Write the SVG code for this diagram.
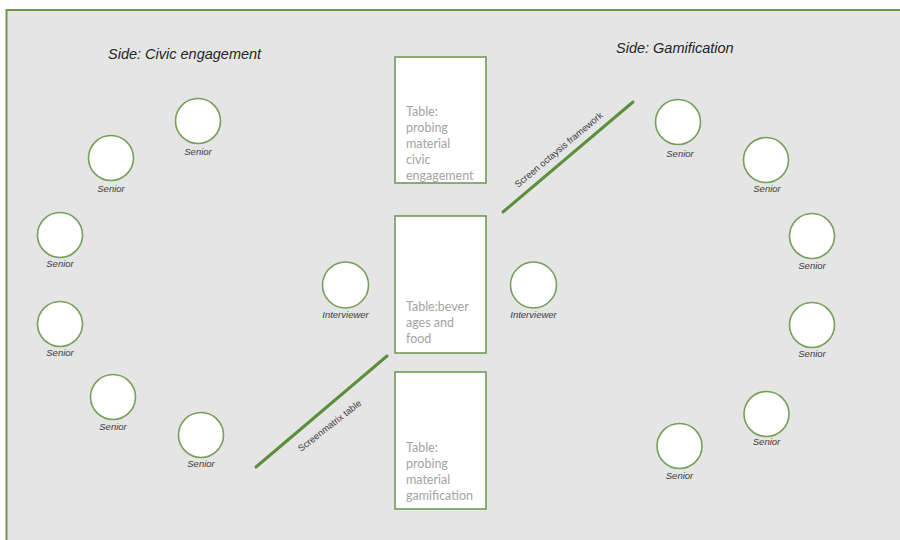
<svg xmlns="http://www.w3.org/2000/svg" width="900" height="540" viewBox="0 0 900 540">
<style>
.seat{fill:#ffffff;stroke:#76a05a;stroke-width:1.6}
.tbl{fill:#ffffff;stroke:#6f9c55;stroke-width:1.6}
.lbl{font-family:"Liberation Sans",Arial,sans-serif;font-size:9.5px;font-style:italic;fill:#404040;text-anchor:middle}
.side{font-family:"Liberation Sans",Arial,sans-serif;font-size:14.5px;font-style:italic;fill:#262626}
.ttxt{font-family:"Lato","Open Sans",sans-serif;font-size:12.5px;fill:#a3a3a3}
.scr{stroke:#5c8f3c;stroke-width:3;stroke-linecap:round}
.scrtxt{font-family:"Liberation Sans",Arial,sans-serif;font-size:9.3px;fill:#404040}
</style>
<rect x="0" y="0" width="900" height="540" fill="#ffffff"/>
<rect x="6.5" y="10" width="900" height="540" fill="#e5e5e5" stroke="#6b9b48" stroke-width="2"/>

<text class="side" x="108" y="59">Side: Civic engagement</text>
<text class="side" x="616" y="53">Side: Gamification</text>

<g id="table-civic"><rect class="tbl" x="395" y="57" width="91" height="126"/>
<text class="ttxt"><tspan x="406" y="116">Table:</tspan><tspan x="406" y="132">probing</tspan><tspan x="406" y="148">material</tspan><tspan x="406" y="164">civic</tspan><tspan x="406" y="180">engagement</tspan></text></g>
<g id="table-food"><rect class="tbl" x="395" y="216" width="91" height="137"/>
<text class="ttxt"><tspan x="406" y="311">Table:bever</tspan><tspan x="406" y="327">ages and</tspan><tspan x="406" y="343">food</tspan></text></g>
<g id="table-gamification"><rect class="tbl" x="395" y="372" width="91" height="137"/>
<text class="ttxt"><tspan x="406" y="452">Table:</tspan><tspan x="406" y="468">probing</tspan><tspan x="406" y="484">material</tspan><tspan x="406" y="500">gamification</tspan></text></g>

<g id="connectors">
<line class="scr" x1="256" y1="467" x2="387" y2="356"/>
<text class="scrtxt" transform="translate(301,452) rotate(-38)">Screenmatrix table</text>
<line class="scr" x1="503" y1="212" x2="633" y2="102"/>
<text class="scrtxt" transform="translate(518,188) rotate(-40)">Screen octaysis framework</text>
</g>

<g id="senior-l1"><circle class="seat" cx="198" cy="121" r="22.5"/><text class="lbl" x="198" y="155">Senior</text></g>
<g id="senior-l2"><circle class="seat" cx="111" cy="158" r="22.5"/><text class="lbl" x="111" y="192">Senior</text></g>
<g id="senior-l3"><circle class="seat" cx="60" cy="235" r="22.5"/><text class="lbl" x="60" y="267">Senior</text></g>
<g id="senior-l4"><circle class="seat" cx="60" cy="324" r="22.5"/><text class="lbl" x="60" y="356">Senior</text></g>
<g id="senior-l5"><circle class="seat" cx="113" cy="397" r="22.5"/><text class="lbl" x="113" y="430">Senior</text></g>
<g id="senior-l6"><circle class="seat" cx="201" cy="435" r="22.5"/><text class="lbl" x="201" y="467">Senior</text></g>

<g id="interviewer-l"><circle class="seat" cx="345.5" cy="285" r="23"/><text class="lbl" x="345.5" y="318">Interviewer</text></g>
<g id="interviewer-r"><circle class="seat" cx="533.5" cy="285" r="23"/><text class="lbl" x="533.5" y="318">Interviewer</text></g>

<g id="senior-r1"><circle class="seat" cx="678" cy="122" r="22.5"/><text class="lbl" x="680" y="157">Senior</text></g>
<g id="senior-r2"><circle class="seat" cx="766" cy="160" r="22.5"/><text class="lbl" x="767" y="192">Senior</text></g>
<g id="senior-r3"><circle class="seat" cx="812" cy="236" r="22.5"/><text class="lbl" x="812" y="269">Senior</text></g>
<g id="senior-r4"><circle class="seat" cx="812" cy="325" r="22.5"/><text class="lbl" x="812" y="357">Senior</text></g>
<g id="senior-r5"><circle class="seat" cx="766.5" cy="414" r="22.5"/><text class="lbl" x="766.5" y="445">Senior</text></g>
<g id="senior-r6"><circle class="seat" cx="679.5" cy="446" r="22.5"/><text class="lbl" x="679.5" y="479">Senior</text></g>
</svg>
